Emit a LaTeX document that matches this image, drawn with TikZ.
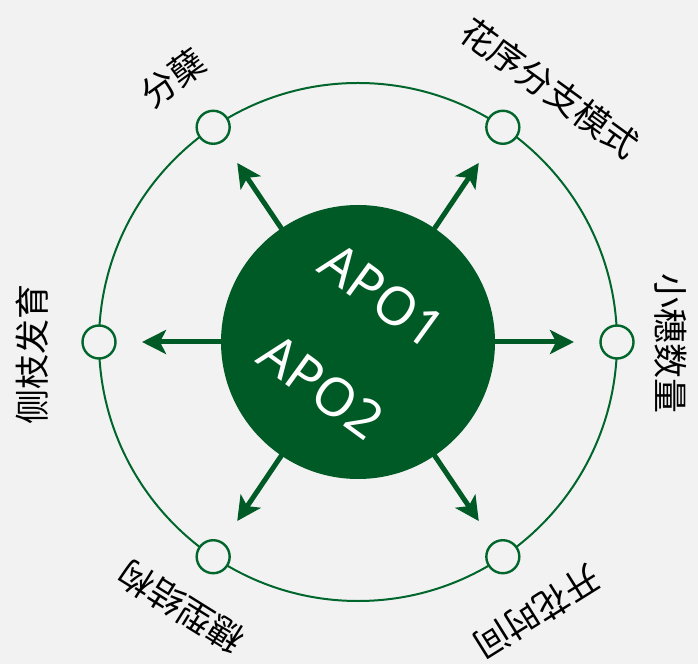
\documentclass[tikz,border=0pt]{standalone}
\usepackage{fontspec}
\setmainfont{Noto Sans CJK SC}
\newfontfamily\latinfont{Noto Sans}
\usetikzlibrary{arrows.meta,calc}
\definecolor{bg}{HTML}{F2F2F2}
\definecolor{dgreen}{HTML}{005A25}
\definecolor{rgreen}{HTML}{00662C}
\tikzset{
  ring/.style={draw=rgreen, line width=2pt},
  dot/.style={circle, draw=rgreen, line width=2.4pt, fill=bg, minimum size=33pt, inner sep=0pt},
  hub/.style={circle, fill=dgreen, minimum size=274pt, inner sep=0pt},
  ray/.style={draw=dgreen, line width=5pt, -{Stealth[length=24pt, width=24pt, inset=6pt]}},
  lbl/.style={font=\fontsize{35}{35}\selectfont, text=black, inner sep=0pt},
  apo/.style={font=\latinfont\fontsize{53}{53}\selectfont, text=white, inner sep=0pt, rotate=-36}
}
\begin{document}
\begin{tikzpicture}[x=1pt,y=1pt]
\fill[bg] (0,0) rectangle (698,664);
\useasboundingbox (0,0) rectangle (698,664);
\coordinate (C) at (358,322);
\draw[ring] (C) circle[radius=259];
\node[hub] (hub) at (C) {};
\foreach \a/\n in {0/r,56/ur,124/ul,180/l,236/ll,304/lr}{
  \node[dot] (d\n) at ($(C)+(\a:259)$) {};
  \coordinate (s\n) at ($(C)+(\a:136)$);
  \coordinate (t\n) at ($(C)+(\a:216)$);
  \draw[ray] (s\n) -- (t\n);
}
\node[apo] (apo1) at (382,368) {APO1};
\node[apo] (apo2) at (321,277) {APO2};
\node[lbl, rotate=36] (l1) at (173,586) {分蘖};
\node[lbl, rotate=-36] (l2) at (550,576) {花序分支模式};
\node[lbl, rotate=-90] (l3) at (671,320) {小穗数量};
\node[lbl, rotate=90] (l4) at (32,309) {侧枝发育};
\node[lbl, rotate=148] (l5) at (181,57) {穗型结构};
\node[lbl, rotate=212] (l6) at (537,52) {开花时间};
\end{tikzpicture}
\end{document}
